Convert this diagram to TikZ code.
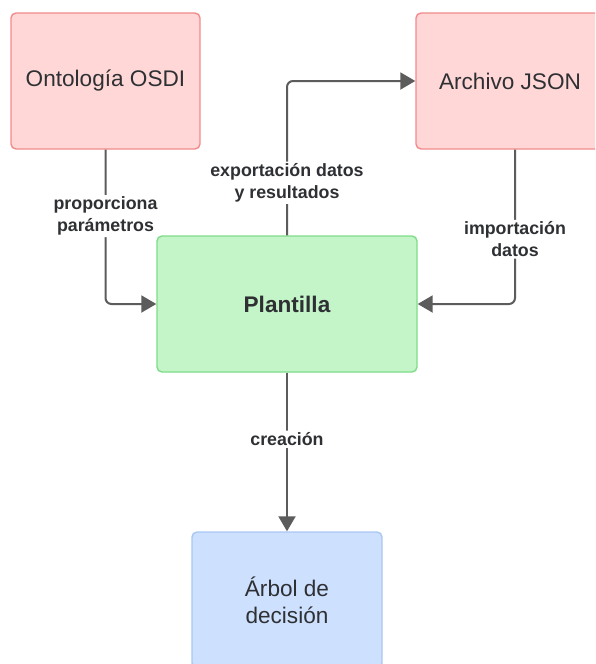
\documentclass[tikz,border=0pt]{standalone}
\usepackage{fontspec}
\setmainfont{Liberation Sans}
\usetikzlibrary{arrows.meta}

\definecolor{redfill}{HTML}{FFD7D7}
\definecolor{redline}{HTML}{F28B8B}
\definecolor{greenfill}{HTML}{C4F5C9}
\definecolor{greenline}{HTML}{80DC8A}
\definecolor{bluefill}{HTML}{CDE0FE}
\definecolor{blueline}{HTML}{A9C7F3}
\definecolor{wire}{HTML}{5C5C5C}
\definecolor{ink}{HTML}{2E3033}

\tikzset{
  x=1pt, y=-1pt,
  box/.style={draw, line width=1.4pt, rounded corners=5pt, inner sep=0pt,
    minimum height=136pt, align=center, text=ink,
    font=\fontsize{22.6}{27}\selectfont},
  redbox/.style={box, fill=redfill, draw=redline, minimum width=189pt},
  conn/.style={draw=wire, line width=2pt, rounded corners=6pt,
    -{Triangle[length=15pt, width=17pt]}},
  lbl/.style={fill=white, text=ink, inner sep=2pt, align=center,
    font=\bfseries\fontsize{17.8}{21.5}\selectfont}
}

\begin{document}
\begin{tikzpicture}
  \clip (0,0) rectangle (595,664);
  \fill[white] (0,0) rectangle (595,664);

  % boxes
  \node[redbox] (onto) at (105.5,81) {Ontología OSDI};
  \node[redbox, minimum width=188pt] (json) at (510,81) {Archivo JSON};
  \node[box, fill=greenfill, draw=greenline, minimum width=260pt,
        font=\bfseries\fontsize{22.6}{27}\selectfont] (plant) at (287,304) {Plantilla};
  \node[box, fill=bluefill, draw=blueline, minimum width=190pt] (tree) at (287,600)
        {Árbol de\\decisión};

  % connectors
  \draw[conn] (onto.south) |- node[lbl, pos=0.215] (lonto) {proporciona\\parámetros} (plant.west);
  \draw[conn] (plant.north) |- node[lbl, pos=0.17] (lexp) {exportación datos\\y resultados} (json.west);
  \draw[conn] ([xshift=5pt]json.south) |- node[lbl, pos=0.29] (limp) {importación\\datos} (plant.east);
  \draw[conn] (plant.south) -- node[lbl, pos=0.42] (lcre) {creación} (tree.north);
\end{tikzpicture}
\end{document}
